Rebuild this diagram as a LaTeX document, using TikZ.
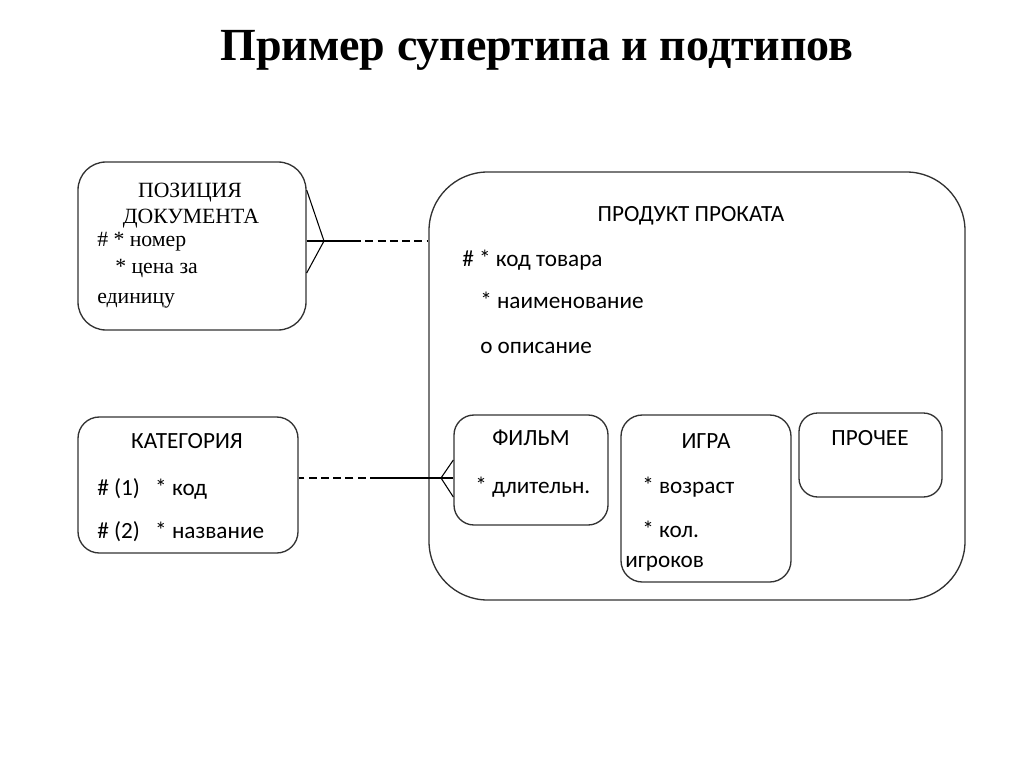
\documentclass[tikz,border=0pt]{standalone}
\usepackage{fontspec}
\setmainfont{Liberation Serif}
\newfontfamily\calfont{Carlito}
\usetikzlibrary{positioning, calc}
\definecolor{linegray}{RGB}{50,50,50}

\begin{document}
\begin{tikzpicture}[x=0.75pt, y=-0.75pt,
  box/.style={draw=linegray, line width=1pt, inner sep=0pt},
  sertext/.style={font=\fontsize{16.3}{19}\selectfont, inner sep=0pt},
  santext/.style={font=\calfont\fontsize{17.4}{20}\selectfont, inner sep=0pt},
  link/.style={draw=black, line width=#1},
  link/.default=1.3pt,
  dashlink/.style={link=#1, dash pattern=on 6pt off 3.2pt},
  dashlink/.default=1.3pt]
  \useasboundingbox (0,0) rectangle (1024,767);

  % Title
  \node[font=\bfseries\fontsize{34.5}{40}\selectfont, anchor=base, inner sep=0pt] (title) at (537,61) {Пример супертипа и подтипов};

  % Entities
  \node[box, rounded corners=21pt, minimum width=171pt, minimum height=126pt] (pos) at (192,246) {};
  \node[box, rounded corners=16pt, minimum width=165pt, minimum height=102pt] (kat) at (188,485) {};
  \node[box, rounded corners=44pt, minimum width=402pt, minimum height=321pt] (prod) at (697,386) {};

  % Subtypes
  \node[box, rounded corners=15pt, minimum width=115.5pt, minimum height=82.5pt] (film) at (531,470) {};
  \node[box, rounded corners=16pt, minimum width=127.5pt, minimum height=125.25pt] (igra) at (706,498.5) {};
  \node[box, rounded corners=14pt, minimum width=107.25pt, minimum height=63pt] (proch) at (870.5,455) {};

  % Attributes of ПОЗИЦИЯ ДОКУМЕНТА
  \node[sertext, anchor=base] (posN1) at (190,197) {ПОЗИЦИЯ};
  \node[sertext, anchor=base] (posN2) at (191,223) {ДОКУМЕНТА};
  \node[sertext, anchor=base west] (posA1) at (97,246) {\# * номер};
  \node[sertext, anchor=base west] (posA2) at (115,273) {* цена за};
  \node[sertext, anchor=base west] (posA3) at (97,303) {единицу};

  % Attributes of КАТЕГОРИЯ
  \node[santext, anchor=base] (katN) at (187,448) {КАТЕГОРИЯ};
  \node[santext, anchor=base west] (katA1) at (97,495) {\makebox[43.5pt][l]{\# (1)}* код};
  \node[santext, anchor=base west] (katA2) at (97,538) {\makebox[43.5pt][l]{\# (2)}* название};

  % Attributes of ПРОДУКТ ПРОКАТА
  \node[santext, anchor=base] (prodN) at (691,221) {ПРОДУКТ ПРОКАТА};
  \node[santext, anchor=base west] (prodA1) at (462,266) {\# * код товара};
  \node[santext, anchor=base west] (prodA2) at (480,308) {* наименование};
  \node[santext, anchor=base west] (prodA3) at (480,353) {о описание};

  % Subtype texts
  \node[santext, anchor=base] (filmN) at (531,445) {ФИЛЬМ};
  \node[santext, anchor=base west] (filmA1) at (475,493) {* длительн.};
  \node[santext, anchor=base] (igraN) at (706,448) {ИГРА};
  \node[santext, anchor=base west] (igraA1) at (642,493) {* возраст};
  \node[santext, anchor=base west] (igraA2) at (642,537) {* кол.};
  \node[santext, anchor=base west] (igraA3) at (625,567) {игроков};
  \node[santext, anchor=base] (prochN) at (870,445) {ПРОЧЕЕ};

  % ПОЗИЦИЯ -- ПРОДУКТ (crow's foot at ПОЗИЦИЯ)
  \coordinate (cf1) at (324,241);
  \coordinate (mid1) at (353,241);
  \draw[link=0.8pt] ($(cf1 -| pos.east)+(0,-51)$) -- (cf1) -- ($(cf1 -| pos.east)+(0,32)$);
  \draw[link=0.8pt] (cf1 -| pos.east) -- (mid1);
  \draw[dashlink=0.8pt] (mid1) -- (mid1 -| prod.west);

  % КАТЕГОРИЯ -- ФИЛЬМ (crow's foot at ФИЛЬМ)
  \coordinate (cf2) at (441,478);
  \coordinate (mid2) at (378,478);
  \draw[link=0.8pt] ($(cf2 -| film.west)+(0,-18)$) -- (cf2) -- ($(cf2 -| film.west)+(0,19)$);
  \draw[link] (cf2 -| film.west) -- (mid2);
  \draw[dashlink] (mid2) -- (mid2 -| kat.east);
\end{tikzpicture}
\end{document}
